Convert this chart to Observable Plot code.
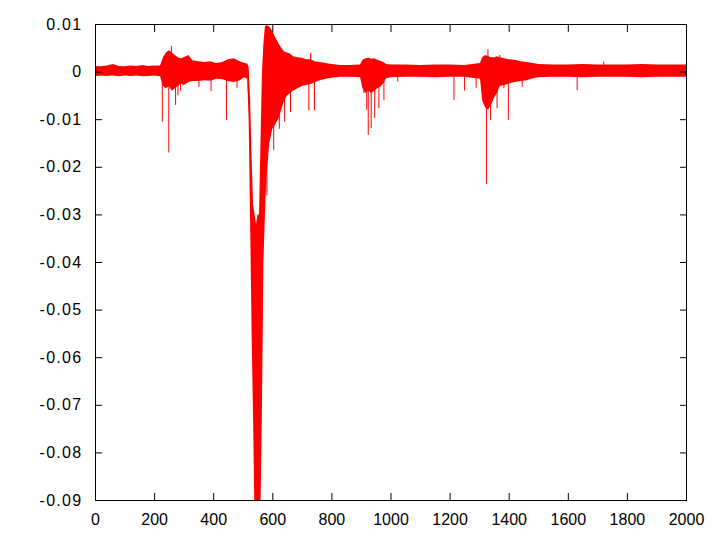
<!DOCTYPE html>
<html><head><meta charset="utf-8">
<script src="https://cdn.jsdelivr.net/npm/d3@7"></script>
<script src="https://cdn.jsdelivr.net/npm/@observablehq/plot@0.6"></script>
<style>body{margin:0;background:#fff} .ylab text{letter-spacing:1.3px}</style>
</head><body><div id="chart"></div>
<script>
// Envelope of the noisy signal (upper / lower extent)
const envX  = [0, 20, 40, 60, 80, 100, 120, 140, 160, 180, 200, 220, 230, 240, 250, 260, 270, 280, 290, 300, 316, 330, 350, 370, 390, 410, 430, 450, 470, 490, 505, 515,
  520, 525, 530, 535, 540, 545, 550, 555, 560, 565, 570, 575, 580, 590, 600, 610, 620, 630, 640, 650, 660, 670, 685, 700, 715, 730, 745, 760, 780, 800, 830, 860, 897,
  905, 915, 925, 935, 945, 955, 965, 975, 985, 1000, 1050, 1100, 1150, 1200, 1250, 1303,
  1310, 1320, 1330, 1340, 1350, 1360, 1370, 1385, 1400, 1420, 1440, 1460, 1482, 1500, 1550, 1600, 1650, 1700, 1750, 1800, 1850, 1900, 1950, 2000];
const envHi = [0.0012, 0.0011, 0.0013, 0.0016, 0.0012, 0.0011, 0.0013, 0.0012, 0.0014, 0.0012, 0.0013, 0.0013, 0.0030, 0.0040, 0.0045, 0.0040, 0.0035, 0.0030, 0.0028, 0.0030, 0.0035, 0.0024, 0.0022, 0.0020, 0.0022, 0.0018, 0.0020, 0.0026, 0.0028, 0.0022, 0.0018, 0.0017,
  0.0010, -0.006, -0.018, -0.028, -0.030, -0.032, -0.030, -0.030, -0.015, 0.000, 0.006, 0.0095, 0.0098, 0.0095, 0.0085, 0.0072, 0.0060, 0.0050, 0.0042, 0.0040, 0.0038, 0.0032, 0.0030, 0.0029, 0.0026, 0.0026, 0.0021, 0.0020, 0.0018, 0.0016, 0.0014, 0.0014, 0.0015,
  0.0025, 0.0028, 0.0029, 0.0027, 0.0028, 0.0025, 0.0023, 0.0020, 0.0016, 0.0015, 0.0015, 0.0014, 0.0015, 0.0015, 0.0014, 0.0018,
  0.0030, 0.0035, 0.0033, 0.0030, 0.0030, 0.0032, 0.0030, 0.0028, 0.0026, 0.0025, 0.0022, 0.0020, 0.0018, 0.0016, 0.0015, 0.0015, 0.0016, 0.0015, 0.0015, 0.0015, 0.0016, 0.0015, 0.0015, 0.0015];
const envLo = [-0.0009, -0.0008, -0.0009, -0.0008, -0.0010, -0.0008, -0.0009, -0.0008, -0.0010, -0.0009, -0.0008, -0.0010, -0.0030, -0.0035, -0.0030, -0.0040, -0.0035, -0.0030, -0.0025, -0.0028, -0.0022, -0.0020, -0.0020, -0.0018, -0.0019, -0.0015, -0.0016, -0.0020, -0.0022, -0.0018, -0.0012, -0.0015,
  -0.010, -0.032, -0.055, -0.073, -0.095, -0.095, -0.095, -0.095, -0.092, -0.070, -0.040, -0.030, -0.022, -0.015, -0.012, -0.011, -0.010, -0.008, -0.006, -0.005, -0.0045, -0.004, -0.0035, -0.003, -0.0028, -0.0026, -0.0022, -0.0018, -0.0015, -0.0013, -0.0011, -0.0011, -0.0012,
  -0.0035, -0.0045, -0.0040, -0.0045, -0.0040, -0.0035, -0.0032, -0.0025, -0.0014, -0.0012, -0.0011, -0.0011, -0.0012, -0.0011, -0.0011, -0.0015,
  -0.0060, -0.0075, -0.0080, -0.0070, -0.0055, -0.0045, -0.0030, -0.0028, -0.0025, -0.0022, -0.0020, -0.0018, -0.0014, -0.0012, -0.0011, -0.0011, -0.0012, -0.0011, -0.0011, -0.0011, -0.0012, -0.0011, -0.0011, -0.0011];

// Isolated single-sample spikes
const spikeX = [226, 248, 257, 271, 279, 288, 350, 391, 443, 479, 517, 580, 603, 622, 640, 660, 722, 728, 741,
  908, 918, 923, 933, 945, 959, 976, 1023, 1213, 1249, 1288, 1323, 1328, 1337, 1359, 1368, 1382, 1397, 1444, 1630, 1720];
const spikeY = [-0.0105, -0.0170, 0.0054, -0.0070, -0.0050, -0.0040, -0.0032, -0.0041, -0.0102, -0.0034, -0.0042, -0.026, -0.0165, -0.0120, -0.0105, -0.0085, -0.0081, 0.0039, -0.0081,
  -0.0045, -0.0080, -0.0133, -0.0119, -0.0097, -0.0077, -0.0060, -0.0021, -0.0060, -0.0040, -0.0034, -0.0236, 0.0047, -0.0102, -0.0077, 0.0035, -0.0035, -0.0102, -0.0032, -0.0039, 0.0021];

const xTicks = [0, 200, 400, 600, 800, 1000, 1200, 1400, 1600, 1800, 2000];
const yTicks = [0.01, 0, -0.01, -0.02, -0.03, -0.04, -0.05, -0.06, -0.07, -0.08, -0.09];

const env = envX.map((x, i) => ({x, hi: envHi[i], lo: envLo[i]}));
const spikes = spikeX.map((x, i) => ({x, y: spikeY[i]}));
const fmtY = d => Math.abs(d) < 1e-12 ? "0" : (d < 0 ? "-" : "") + Math.abs(d).toFixed(2);
const blank = () => "";

const chart = Plot.plot({
  width: 720, height: 540,
  marginLeft: 95, marginRight: 34, marginTop: 24, marginBottom: 40,
  x: {domain: [0, 2000]},
  y: {domain: [-0.09, 0.01]},
  style: {fontFamily: "'Liberation Sans', Arial, sans-serif", fontSize: "16px", color: "#000", background: "#fff"},
  marks: [
    Plot.areaY(env, {x: "x", y1: "lo", y2: "hi", fill: "#ff0000", clip: true}),
    Plot.ruleX(spikes, {x: "x", y1: 0, y2: "y", stroke: "#ff0000", strokeWidth: 1, clip: true}),
    Plot.frame({stroke: "#000", strokeWidth: 1}),
    Plot.axisY({ticks: yTicks, tickSize: 0, tickPadding: 13, tickFormat: fmtY, label: null, fontSize: 16, className: "ylab"}),
    Plot.axisY({ticks: yTicks, tickSize: 7, dx: 7, tickFormat: blank, label: null}),
    Plot.axisY({anchor: "right", ticks: yTicks, tickSize: 7, dx: -7, tickFormat: blank, label: null}),
    Plot.axisX({ticks: xTicks, tickSize: 0, tickPadding: 13, tickFormat: d => String(d), label: null, fontSize: 16}),
    Plot.axisX({ticks: xTicks, tickSize: 7, dy: -7, tickFormat: blank, label: null}),
    Plot.axisX({anchor: "top", ticks: xTicks, tickSize: 7, dy: 7, tickFormat: blank, label: null})
  ]
});
document.getElementById("chart").appendChild(chart);
</script>
</body></html>
